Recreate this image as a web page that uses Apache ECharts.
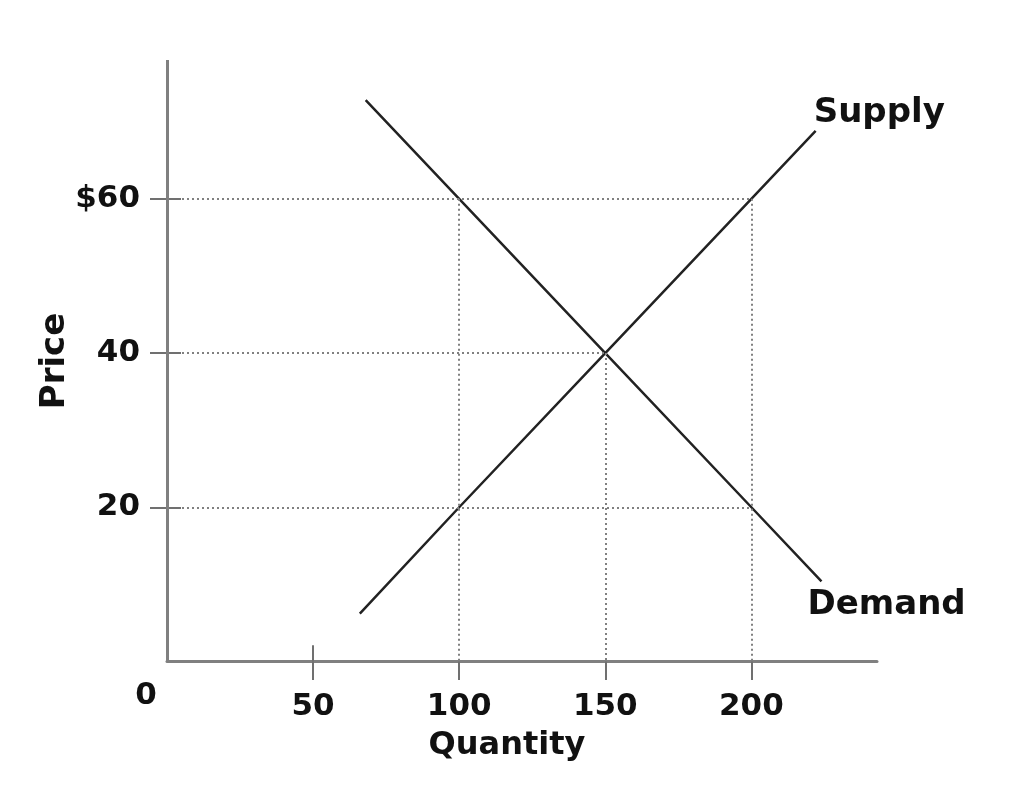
<!DOCTYPE html>
<html><head><meta charset="utf-8">
<script src="https://cdn.jsdelivr.net/npm/echarts@6/dist/echarts.min.js"></script>
<style>html,body{margin:0;padding:0;background:#fff}#c{width:1034px;height:808px}</style>
</head><body><div id="c"></div>
<script>
const quantityTicks = [50, 100, 150, 200];
const priceTicks = [20, 40, 60];
const supplyQ = [66, 100, 150, 200, 222];
const supplyP = [6.2, 20, 40, 60, 68.8];
const demandQ = [68, 100, 150, 200, 224];
const demandP = [72.8, 60, 40, 20, 10.4];
const guidePrices = [60, 40, 20];
const guidePriceEndQ = [200, 150, 200];
const guideQuantities = [100, 150, 200];
const guideQuantityTopP = [60, 40, 60];

const FONT = 'DejaVu Sans';
const P_MIN = -2.4, P_MAX = 78;
const chart = echarts.init(document.getElementById('c'), null, {renderer: 'canvas'});

const dotted = {color: '#808080', width: 2, type: [2, 3]};
const guideLines = [];
guidePrices.forEach((p, i) => guideLines.push([{coord: [0, p]}, {coord: [guidePriceEndQ[i], p]}]));
guideQuantities.forEach((q, i) => guideLines.push([{coord: [q, guideQuantityTopP[i]]}, {coord: [q, 0]}]));

const tickSegs = [];
quantityTicks.forEach(q => tickSegs.push([{coord: [q, P_MIN]}, {coord: [q, 0]}]));
tickSegs.push([{coord: [quantityTicks[0], 0]}, {coord: [quantityTicks[0], 2.1]}]);
priceTicks.forEach(p => tickSegs.push([{coord: [0, p]}, {coord: [4.8, p]}]));

chart.setOption({
  animation: false,
  backgroundColor: '#fff',
  grid: {left: 167, right: 157, top: 60, bottom: 128, containLabel: false},
  xAxis: {
    type: 'value', min: 0, max: 243,
    name: 'Quantity', nameLocation: 'middle', nameGap: 50,
    nameTextStyle: {fontFamily: FONT, fontWeight: 'bold', fontSize: 32, color: '#111', padding: [0, 30, 0, 0]},
    axisLine: {show: true, onZero: true, lineStyle: {color: '#808080', width: 3}},
    axisTick: {show: false},
    axisLabel: {customValues: quantityTicks, margin: 11, fontFamily: FONT, fontWeight: 'bold', fontSize: 31, color: '#111'},
    splitLine: {show: false}
  },
  yAxis: {
    type: 'value', min: P_MIN, max: P_MAX,
    name: 'Price', nameLocation: 'middle', nameRotate: 90, nameGap: 95, nameMoveOverlap: false,
    nameTextStyle: {fontFamily: FONT, fontWeight: 'bold', fontSize: 34, color: '#111', padding: [0, 0, 0, 18]},
    axisLine: {show: false},
    axisTick: {show: true, customValues: priceTicks, length: 17, lineStyle: {color: '#707070', width: 2}},
    axisLabel: {customValues: priceTicks, margin: 27, fontFamily: FONT, fontWeight: 'bold', fontSize: 31, color: '#111',
      formatter: v => v === 60 ? '$60' : String(v)},
    splitLine: {show: false}
  },
  series: [
    {
      name: 'guides', type: 'line', data: [], silent: true,
      markLine: {silent: true, symbol: 'none', label: {show: false}, lineStyle: dotted, data: guideLines}
    },
    {
      name: 'ticks', type: 'line', data: [], silent: true,
      markLine: {silent: true, symbol: 'none', label: {show: false},
        lineStyle: {color: '#707070', width: 2, type: 'solid'}, data: tickSegs}
    },
    {
      name: 'yAxisLine', type: 'line', data: [], silent: true,
      markLine: {silent: true, symbol: 'none', label: {show: false},
        lineStyle: {color: '#808080', width: 3, type: 'solid'},
        data: [[{coord: [0, 0]}, {coord: [0, P_MAX]}]]}
    },
    {
      name: 'Supply', type: 'line', showSymbol: false, symbol: 'none', silent: true,
      data: supplyQ.map((q, i) => [q, supplyP[i]]),
      lineStyle: {color: '#222', width: 2.5},
      endLabel: {show: true, formatter: '{a}', fontFamily: FONT, fontWeight: 'bold', fontSize: 34, color: '#111',
        align: 'left', verticalAlign: 'middle', distance: 0, offset: [-2, -18]}
    },
    {
      name: 'Demand', type: 'line', showSymbol: false, symbol: 'none', silent: true,
      data: demandQ.map((q, i) => [q, demandP[i]]),
      lineStyle: {color: '#222', width: 2.5},
      endLabel: {show: true, formatter: '{a}', fontFamily: FONT, fontWeight: 'bold', fontSize: 34, color: '#111',
        align: 'left', verticalAlign: 'middle', distance: 0, offset: [-14, 24]}
    },
    {
      name: 'origin', type: 'scatter', symbolSize: 0, silent: true,
      itemStyle: {opacity: 1},
      data: [[0, 0]],
      label: {show: true, formatter: '0', position: 'inside', offset: [-21, 34], opacity: 1,
        fontFamily: FONT, fontWeight: 'bold', fontSize: 31, color: '#111'}
    }
  ]
});
</script>
</body></html>
